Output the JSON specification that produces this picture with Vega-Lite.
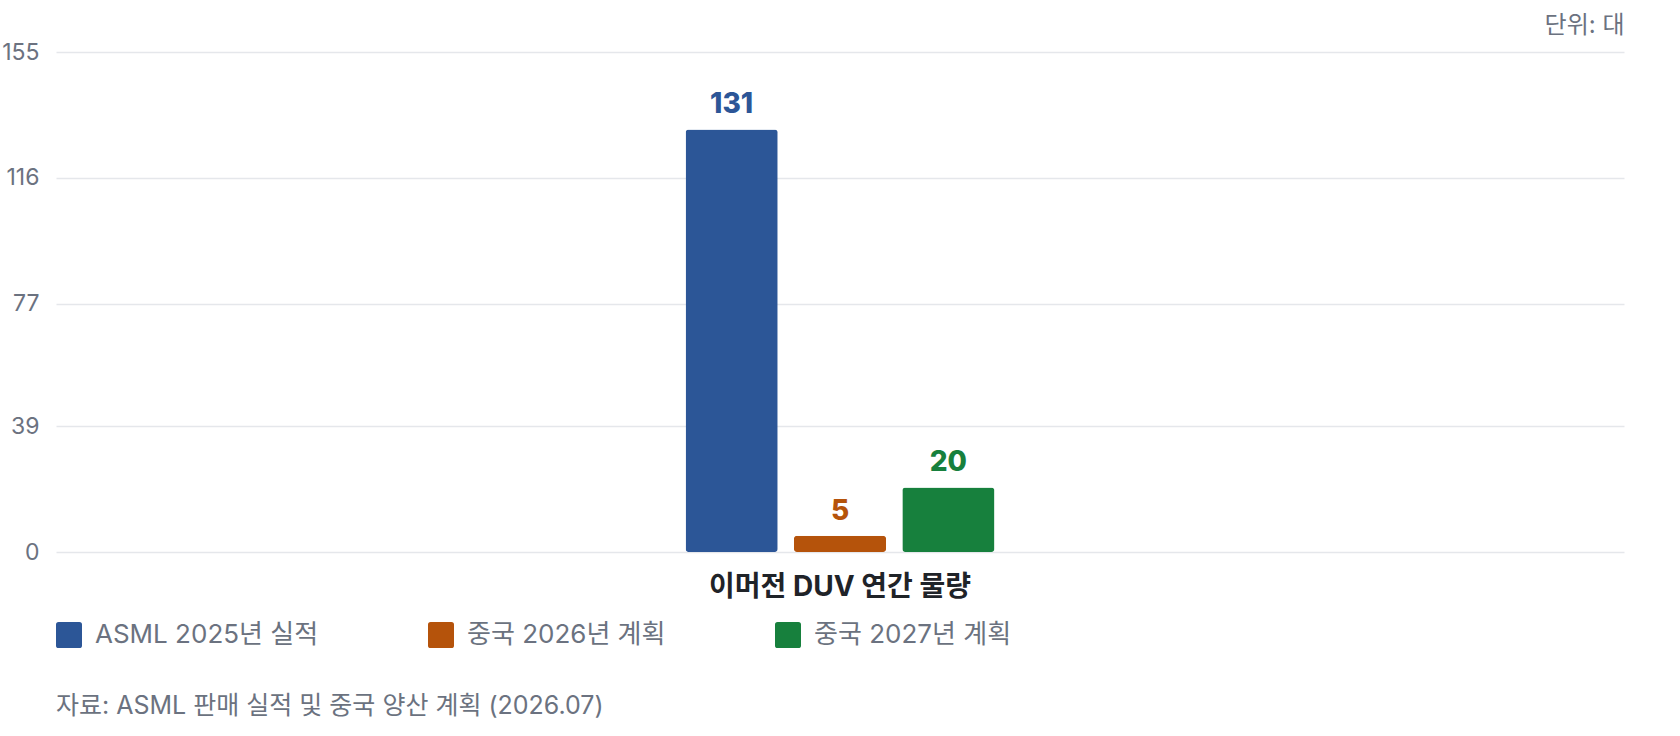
{
  "$schema": "https://vega.github.io/schema/vega-lite/v6.json",
  "autosize": {"type": "none"},
  "width": 1568,
  "height": 500,
  "padding": {"left": 56, "top": 52, "right": 56, "bottom": 184},
  "background": "#ffffff",
  "config": {
    "font": "Inter, Noto Sans CJK KR, sans-serif",
    "view": {"stroke": null}
  },
  "title": {
    "text": "자료: ASML 판매 실적 및 중국 양산 계획 (2026.07)",
    "orient": "bottom",
    "anchor": "start",
    "frame": "group",
    "fontSize": 25,
    "fontWeight": "normal",
    "color": "#6b7280",
    "offset": 46
  },
  "data": {
    "values": [
      {"group": "이머전 DUV 연간 물량", "series": "ASML 2025년 실적", "value": 131},
      {"group": "이머전 DUV 연간 물량", "series": "중국 2026년 계획", "value": 5},
      {"group": "이머전 DUV 연간 물량", "series": "중국 2027년 계획", "value": 20}
    ]
  },
  "encoding": {
    "x": {
      "field": "group",
      "type": "nominal",
      "scale": {"paddingInner": 0.5095, "paddingOuter": 1},
      "axis": {
        "title": null,
        "labelAngle": 0,
        "labelFontSize": 28,
        "labelFontWeight": "bold",
        "labelColor": "#1f2328",
        "labelPadding": 21,
        "labelBaseline": "top",
        "labelLimit": 800,
        "ticks": false,
        "domain": false,
        "grid": false
      }
    },
    "xOffset": {
      "field": "series",
      "type": "nominal",
      "scale": {
        "domain": ["ASML 2025년 실적", "중국 2026년 계획", "중국 2027년 계획"],
        "paddingInner": 0.15,
        "paddingOuter": 0
      }
    },
    "y": {
      "field": "value",
      "type": "quantitative",
      "scale": {"domain": [0, 155], "nice": false},
      "axis": {
        "values": [0, 39, 77, 116, 155],
        "title": "단위: 대",
        "titleAngle": 0,
        "titleAlign": "right",
        "titleBaseline": "middle",
        "titleX": 1568,
        "titleY": -27,
        "titleFontSize": 24,
        "titleFontWeight": "normal",
        "titleColor": "#6b7280",
        "labelFontSize": 23,
        "labelColor": "#6b7280",
        "labelPadding": 17,
        "ticks": false,
        "domain": false,
        "grid": true,
        "gridColor": "#e5e7eb",
        "gridWidth": 1.5
      }
    },
    "color": {
      "field": "series",
      "type": "nominal",
      "scale": {
        "domain": ["ASML 2025년 실적", "중국 2026년 계획", "중국 2027년 계획"],
        "range": ["#2c5697", "#b5530b", "#17803d"]
      },
      "legend": {
        "orient": "none",
        "legendX": 0,
        "legendY": 570,
        "direction": "horizontal",
        "title": null,
        "symbolType": "M-0.8,-1H0.8Q1,-1 1,-0.8V0.8Q1,1 0.8,1H-0.8Q-1,1 -1,0.8V-0.8Q-1,-1 -0.8,-1Z",
        "symbolSize": 676,
        "symbolStrokeWidth": 0,
        "symbolOpacity": 1,
        "labelFontSize": 26,
        "labelColor": "#6b7280",
        "labelOffset": 13,
        "labelLimit": 400,
        "columnPadding": 109
      }
    }
  },
  "layer": [
    {
      "mark": {"type": "bar", "cornerRadius": 3}
    },
    {
      "mark": {
        "type": "text",
        "baseline": "alphabetic",
        "dy": -16,
        "fontSize": 28,
        "fontWeight": 800
      },
      "encoding": {
        "text": {"field": "value", "type": "quantitative"}
      }
    }
  ]
}
